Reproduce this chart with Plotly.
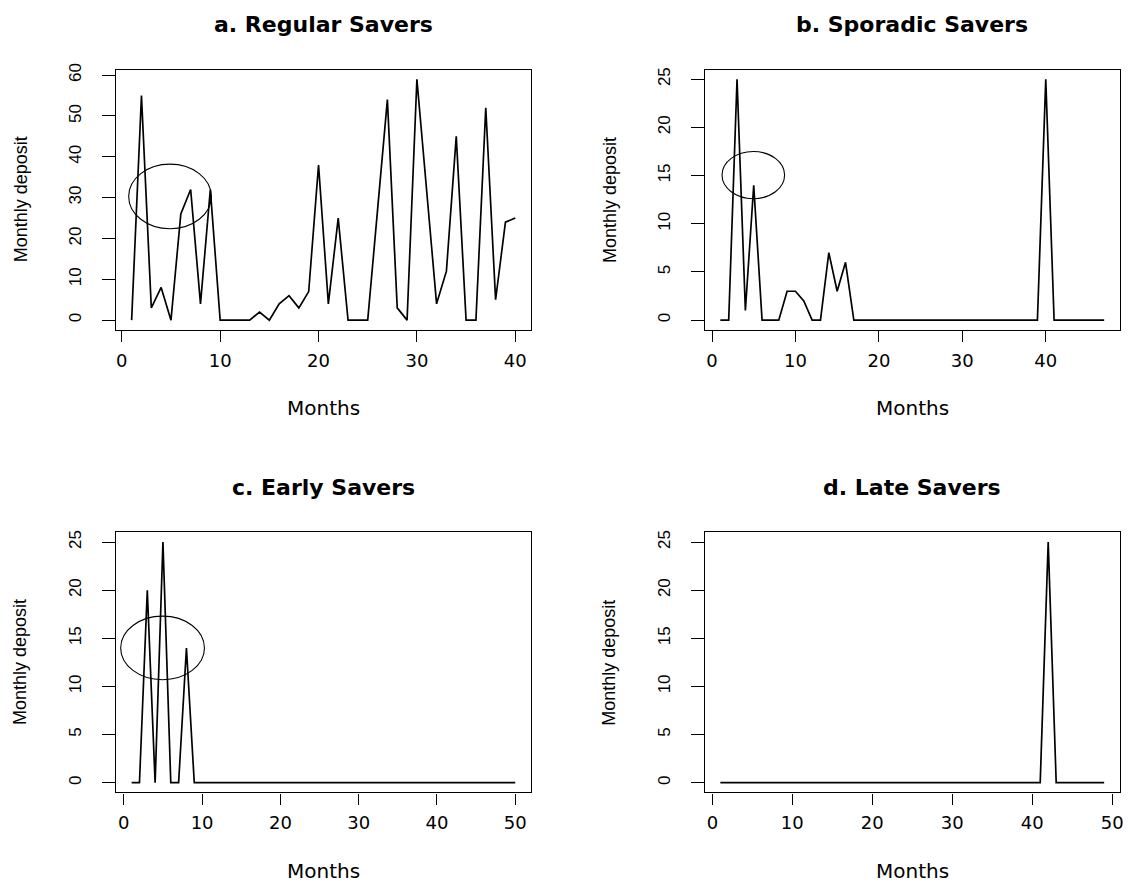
import plotly.graph_objects as go

# ---------------- data ----------------
regular_deposits = [0, 55, 3, 8, 0, 26, 32, 4, 32, 0, 0, 0, 0, 2, 0, 4, 6, 3, 7, 38,
                    4, 25, 0, 0, 0, 27, 54, 3, 0, 59, 31, 4, 12, 45, 0, 0, 52, 5, 24, 25]
sporadic_deposits = [0, 0, 25, 1, 14, 0, 0, 0, 3, 3, 2, 0, 0, 7, 3, 6] + [0] * 23 + [25] + [0] * 7
early_deposits = [0, 0, 20, 0, 25, 0, 0, 14] + [0] * 42
late_deposits = [0] * 41 + [25] + [0] * 7

panel_titles = ["a. Regular Savers", "b. Sporadic Savers", "c. Early Savers", "d. Late Savers"]
x_label = "Months"
y_label = "Monthly deposit"
y_dticks = [10, 5, 5, 5]
# highlighted regions (x0, x1, y0, y1) in data units
ellipses = [(0.7, 9.1, 22.4, 38.2), (1.2, 8.7, 12.6, 17.5), (-0.4, 10.3, 10.7, 17.3), None]

series = [regular_deposits, sporadic_deposits, early_deposits, late_deposits]

# ---------------- layout geometry (pixels) ----------------
W, H = 1130, 886
col_px = [(116.7, 532.5), (707.5, 1123.5)]
row_px = [(64, 326), (530, 791.7)]
FONT_V = "Liberation Sans, Arial, sans-serif"
FONT_H = "DejaVu Sans, Verdana, sans-serif"

def fx(p):
    return p / W

def fy(p):
    return 1 - p / H

fig = go.Figure()
annotations = []
shapes = []
layout = {}

for i, vals in enumerate(series):
    r, c = divmod(i, 2)
    n = len(vals)
    months = list(range(1, n + 1))
    sfx = "" if i == 0 else str(i + 1)
    xa, ya = "x" + sfx, "y" + sfx
    fig.add_trace(go.Scatter(x=months, y=vals, mode="lines", xaxis=xa, yaxis=ya,
                             line=dict(color="black", width=1.7), showlegend=False,
                             hoverinfo="skip"))
    # R style 4% range extension
    xr = [1 - 0.04 * (n - 1), n + 0.04 * (n - 1)]
    ymin, ymax = min(vals), max(vals)
    yr = [ymin - 0.04 * (ymax - ymin), ymax + 0.04 * (ymax - ymin)]
    (x0p, x1p), (y0p, y1p) = col_px[c], row_px[r]
    common = dict(showgrid=False, zeroline=False, showline=True, mirror=True,
                  linecolor="black", linewidth=1.4, ticks="outside",
                  tickcolor="black", tickwidth=1.4)
    layout["xaxis" + sfx] = dict(domain=[fx(x0p), fx(x1p)], range=xr, anchor=ya,
                                 tickmode="linear", tick0=0, dtick=10, ticklen=11,
                                 ticklabelstandoff=3,
                                 tickfont=dict(family=FONT_H, size=18, color="black"),
                                 **common)
    layout["yaxis" + sfx] = dict(domain=[fy(y1p), fy(y0p)], range=yr, anchor=xa,
                                 tickmode="linear", tick0=0, dtick=y_dticks[i], ticklen=13,
                                 tickangle=-90, ticklabelstandoff=14,
                                 tickfont=dict(family=FONT_V, size=17, color="black"),
                                 **common)
    cx = (x0p + x1p) / 2
    annotations.append(dict(text="<b>" + panel_titles[i] + "</b>", xref="paper", yref="paper",
                            x=fx(cx), y=fy(y0p - 45), xanchor="center", yanchor="middle",
                            showarrow=False, font=dict(family=FONT_H, size=22, color="black")))
    annotations.append(dict(text=x_label, xref="paper", yref="paper",
                            x=fx(cx), y=fy(y1p + 79), xanchor="center", yanchor="middle",
                            showarrow=False, font=dict(family=FONT_H, size=20, color="black")))
    annotations.append(dict(text=y_label, xref="paper", yref="paper", textangle=-90,
                            x=fx(x0p - 96), y=fy((y0p + y1p) / 2), xanchor="center",
                            yanchor="middle", showarrow=False,
                            font=dict(family=FONT_V, size=18, color="black")))
    if ellipses[i] is not None:
        ex0, ex1, ey0, ey1 = ellipses[i]
        shapes.append(dict(type="circle", xref=xa, yref=ya, x0=ex0, x1=ex1, y0=ey0, y1=ey1,
                           line=dict(color="black", width=1.1)))

fig.update_layout(width=W, height=H, margin=dict(l=0, r=0, t=0, b=0),
                  paper_bgcolor="white", plot_bgcolor="white",
                  annotations=annotations, shapes=shapes, **layout)

fig.write_html("out.html", config={"displayModeBar": False},
               post_script="document.body.style.margin='0px';document.body.style.overflow='hidden';")
